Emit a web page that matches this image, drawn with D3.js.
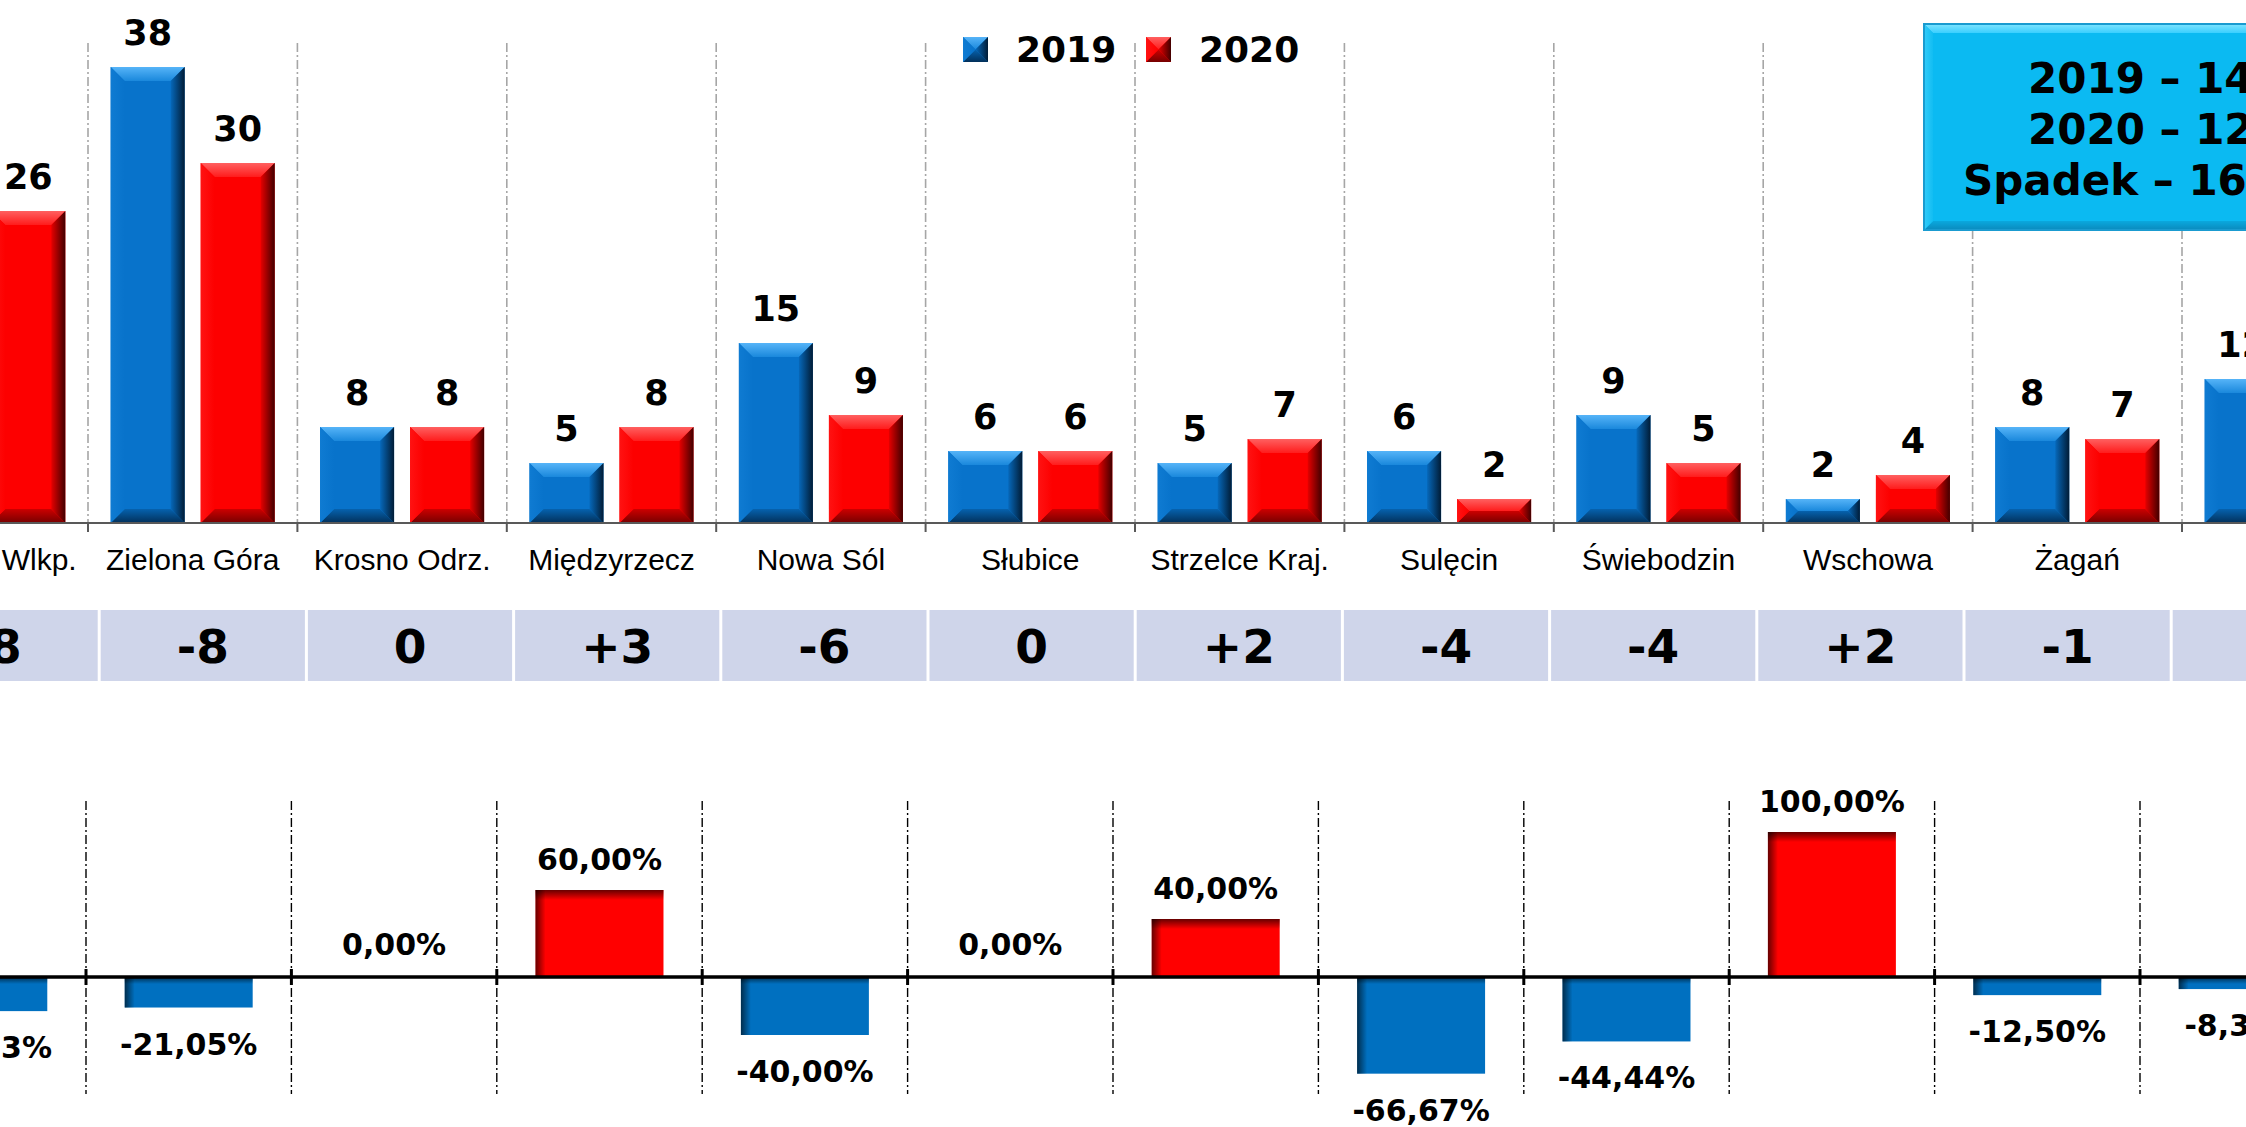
<!DOCTYPE html>
<html>
<head>
<meta charset="utf-8">
<script src="https://cdn.jsdelivr.net/npm/d3@7"></script>
<style>
  html, body { margin: 0; padding: 0; background: #ffffff; overflow: hidden; }
  svg { display: block; font-family: "Liberation Sans", Arial, sans-serif; }
  .heavy { font-family: "DejaVu Sans", "Liberation Sans", Arial, sans-serif; font-weight: bold; }
</style>
</head>
<body>
<svg id="chart" width="2246" height="1127"></svg>
<script>
// Powiaty (counties) and yearly counts
const categories = ["Gorzów Wlkp.", "Zielona Góra", "Krosno Odrz.", "Międzyrzecz", "Nowa Sól", "Słubice",
                    "Strzelce Kraj.", "Sulęcin", "Świebodzin", "Wschowa", "Żagań", "Żary"];
const seriesNames = ["2019", "2020"];
const values2019 = [34, 38, 8, 5, 15, 6, 5, 6, 9, 2, 8, 12];
const values2020 = [26, 30, 8, 8, 9, 6, 7, 2, 5, 4, 7, 11];
// Change 2020 vs 2019: absolute and percentage
const changeAbs = [-8, -8, 0, 3, -6, 0, 2, -4, -4, 2, -1, -1];
const changePct = [-23.53, -21.05, 0, 60, -40, 0, 40, -66.67, -44.44, 100, -12.5, -8.33];
// Summary box lines
const summaryLines = ["2019 – 148", "2020 – 123", "Spadek  – 16,89%"];

const W = 2246, H = 1127;
const svg = d3.select("#chart");
const defs = svg.append("defs");

function linear(id, stops, x1, y1, x2, y2) {
  const g = defs.append("linearGradient").attr("id", id)
    .attr("x1", x1).attr("y1", y1).attr("x2", x2).attr("y2", y2);
  stops.forEach(([o, c, op]) => g.append("stop").attr("offset", o)
    .attr("stop-color", c).attr("stop-opacity", op == null ? 1 : op));
}

// Bevel palettes for the 3D-looking bars
const palettes = {
  "2019": { main: "#0873CB", top: ["#56B4F8", "#1A88DC"], right: ["#0668BA", "#011C36"],
            bottom: ["#0662AE", "#02305A"], left: ["#0F7BD2", "#0873CB"] },
  "2020": { main: "#FD0000", top: ["#FF6060", "#FF1C1C"], right: ["#E50000", "#420000"],
            bottom: ["#CC0000", "#760000"], left: ["#FF1212", "#FD0000"] },
  "box":  { main: "#0BBAF2", top: ["#7FE4FF", "#3ACFFF"], right: ["#0AA6DC", "#0A8CC0"],
            bottom: ["#0AA8DE", "#0A8ABD"], left: ["#33CCFA", "#12BDF2"] }
};
Object.entries(palettes).forEach(([k, p]) => {
  linear(`bev-${k}-top`, [[0, p.top[0]], [1, p.top[1]]], 0, 0, 0, 1);
  linear(`bev-${k}-right`, [[0, p.right[0]], [1, p.right[1]]], 0, 0, 1, 0);
  linear(`bev-${k}-bottom`, [[0, p.bottom[0]], [1, p.bottom[1]]], 0, 0, 0, 1);
  linear(`bev-${k}-left`, [[0, p.left[0]], [1, p.left[1]]], 0, 0, 1, 0);
});
// Inner-shadow overlays for the percentage bars
linear("shade-left", [[0, "#000", 0.6], [1, "#000", 0]], 0, 0, 1, 0);
linear("shade-top", [[0, "#000", 0.6], [1, "#000", 0]], 0, 0, 0, 1);

function bevel(sel, x0, y0, w, h, key, bMax) {
  const p = palettes[key];
  const b = Math.min(bMax, w / 2, h / 2);
  const x1 = x0 + w, y1 = y0 + h;
  const g = sel.append("g");
  g.append("rect").attr("x", x0).attr("y", y0).attr("width", w).attr("height", h).attr("fill", p.main);
  const poly = (pts, fill) => g.append("polygon")
    .attr("points", pts.map(d => d.join(",")).join(" ")).attr("fill", fill);
  poly([[x0, y0], [x1, y0], [x1 - b, y0 + b], [x0 + b, y0 + b]], `url(#bev-${key}-top)`);
  poly([[x0, y1], [x1, y1], [x1 - b, y1 - b], [x0 + b, y1 - b]], `url(#bev-${key}-bottom)`);
  poly([[x1, y0], [x1, y1], [x1 - b, y1 - b], [x1 - b, y0 + b]], `url(#bev-${key}-right)`);
  poly([[x0, y0], [x0, y1], [x0 + b, y1 - b], [x0 + b, y0 + b]], `url(#bev-${key}-left)`);
  return g;
}

const rows = categories.map((c, i) => ({
  cat: c, v: { "2019": values2019[i], "2020": values2020[i] }, abs: changeAbs[i], pct: changePct[i]
}));

// ---------- Top: counts per county ----------
const x = d3.scaleBand().domain(categories).range([-121.4, -121.4 + 12 * 209.4]);
const xs = d3.scaleBand().domain(seriesNames).range([0, x.bandwidth()]).paddingInner(0.178).paddingOuter(0.252);
const y = d3.scaleLinear().domain([0, 40]).range([523, 43]);

const topGrid = svg.append("g");
const bounds = categories.map(c => x(c)).concat([x(categories[categories.length - 1]) + x.step()]);
topGrid.selectAll("line").data(bounds).join("line")
  .attr("x1", d => d).attr("x2", d => d).attr("y1", y(40)).attr("y2", y(0))
  .attr("stroke", "#A6A6A6").attr("stroke-width", 1.6).attr("stroke-dasharray", "9,3,2,3");

const barsTop = svg.append("g");
rows.forEach(r => {
  seriesNames.forEach(s => {
    const bx = x(r.cat) + xs(s), by = y(r.v[s]);
    bevel(barsTop, bx, by, xs.bandwidth(), y(0) - by, s, 14);
    barsTop.append("text").attr("class", "heavy")
      .attr("x", bx + xs.bandwidth() / 2).attr("y", by - 22)
      .attr("text-anchor", "middle").attr("font-size", 35)
      .attr("fill", "#000").text(r.v[s]);
  });
});

const xAxis = svg.append("g").attr("transform", `translate(0,${y(0)})`)
  .call(d3.axisBottom(x).tickSize(0).tickPadding(26));
xAxis.select(".domain").remove();
xAxis.selectAll("text").attr("font-size", 30).attr("fill", "#000")
  .attr("font-family", "\"Liberation Sans\", Arial, sans-serif");
svg.append("line").attr("x1", 0).attr("x2", W).attr("y1", y(0)).attr("y2", y(0))
  .attr("stroke", "#595959").attr("stroke-width", 2);
svg.append("g").selectAll("line").data(bounds).join("line")
  .attr("x1", d => d).attr("x2", d => d).attr("y1", y(0)).attr("y2", y(0) + 9)
  .attr("stroke", "#595959").attr("stroke-width", 2);

// ---------- Middle: absolute change table ----------
const tx = d3.scaleBand().domain(categories).range([-108, -108 + 12 * 207.2]);
const table = svg.append("g");
rows.forEach(r => {
  table.append("rect").attr("x", tx(r.cat) + 1.5).attr("y", 610)
    .attr("width", tx.bandwidth() - 3).attr("height", 71).attr("fill", "#CFD5EA");
  table.append("text").attr("class", "heavy")
    .attr("x", tx(r.cat) + tx.bandwidth() / 2).attr("y", 663)
    .attr("text-anchor", "middle").attr("font-size", 47)
    .text(r.abs > 0 ? "+" + r.abs : String(r.abs));
});

// ---------- Bottom: percentage change ----------
const x2 = d3.scaleBand().domain(categories).range([-119.4, -119.4 + 12 * 205.4])
  .paddingInner(0.377).paddingOuter(0.1885);
const y2 = d3.scaleLinear().domain([-100, 100]).range([977 + 145, 977 - 145]);
const bounds2 = categories.map(c => x2(c) - x2.step() * 0.377 / 2)
  .concat([x2(categories[categories.length - 1]) + x2.bandwidth() + x2.step() * 0.377 / 2]);

svg.append("g").selectAll("line").data(bounds2).join("line")
  .attr("x1", d => d).attr("x2", d => d).attr("y1", 801).attr("y2", 1094)
  .attr("stroke", "#000").attr("stroke-width", 1.4).attr("stroke-dasharray", "9,3,2,3");

const fmtPct = v => v.toFixed(2).replace(".", ",") + "%";
const barsBot = svg.append("g");
rows.forEach(r => {
  const bx = x2(r.cat), bw = x2.bandwidth();
  const cx = bx + bw / 2;
  if (r.pct !== 0) {
    const top = Math.min(y2(r.pct), y2(0)), h = Math.abs(y2(r.pct) - y2(0));
    const pos = r.pct > 0;
    barsBot.append("rect").attr("x", bx).attr("y", top).attr("width", bw).attr("height", h)
      .attr("fill", pos ? "#FF0000" : "#0070C0");
    barsBot.append("rect").attr("x", bx).attr("y", top).attr("width", Math.min(10, bw)).attr("height", h)
      .attr("fill", "url(#shade-left)");
    barsBot.append("rect").attr("x", bx).attr("y", top).attr("width", bw).attr("height", Math.min(pos ? 10 : 7, h))
      .attr("fill", "url(#shade-top)");
  }
  const ly = r.pct > 0 ? y2(r.pct) - 20 : (r.pct < 0 ? y2(r.pct) + 47 : y2(0) - 22);
  barsBot.append("text").attr("class", "heavy").attr("x", cx).attr("y", ly).attr("text-anchor", "middle")
    .attr("font-size", 30).text(fmtPct(r.pct));
});

svg.append("line").attr("x1", 0).attr("x2", W).attr("y1", y2(0)).attr("y2", y2(0))
  .attr("stroke", "#000").attr("stroke-width", 3.5);
svg.append("g").selectAll("line").data(bounds2).join("line")
  .attr("x1", d => d).attr("x2", d => d).attr("y1", y2(0) - 8).attr("y2", y2(0) + 8)
  .attr("stroke", "#000").attr("stroke-width", 3);

// ---------- Legend ----------
const legend = svg.append("g");
const legendX = [963, 1146];
seriesNames.forEach((s, i) => {
  bevel(legend, legendX[i], 37, 25, 25, s, 12.5);
  legend.append("text").attr("class", "heavy").attr("x", legendX[i] + 53).attr("y", 62)
    .attr("font-size", 36).text(s);
});

// ---------- Summary box ----------
const box = svg.append("g");
bevel(box, 1924, 24, 470, 206, "box", 9);
box.append("rect").attr("x", 1924).attr("y", 24).attr("width", 470).attr("height", 206)
  .attr("fill", "none").attr("stroke", "#1A9BD0").attr("stroke-width", 2);
const summaryX = [2028, 2028, 1963];
summaryLines.forEach((t, i) => {
  box.append("text").attr("class", "heavy").attr("x", summaryX[i]).attr("y", 93 + i * 51)
    .attr("font-size", 42).text(t);
});
</script>
</body>
</html>
